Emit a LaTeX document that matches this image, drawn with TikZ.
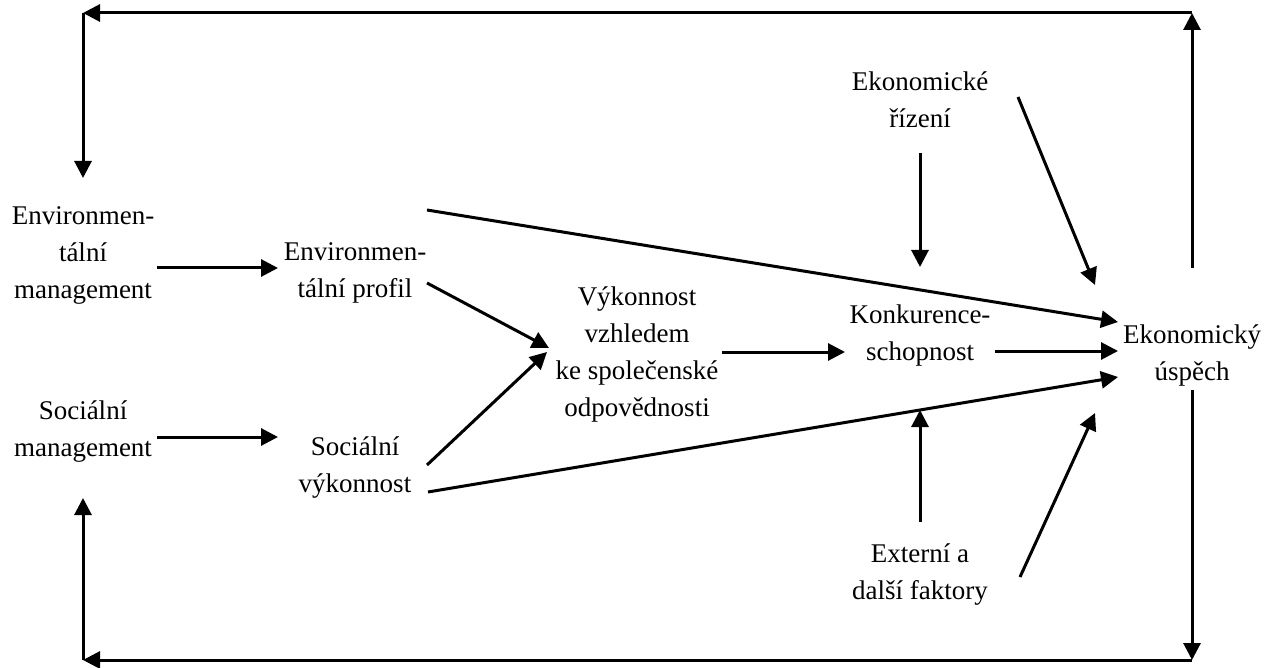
\documentclass[tikz,border=0pt]{standalone}
\usepackage{fontspec}
\setmainfont{Liberation Serif}
\usetikzlibrary{arrows.meta,calc}
\begin{document}
\begin{tikzpicture}[x=1pt,y=-1pt,
  lbl/.style={align=center,inner sep=2pt,font=\fontsize{27}{37}\selectfont},
  arr/.style={line width=3pt,-{Triangle[length=17pt,width=17pt]}}]
\useasboundingbox (0,0) rectangle (1279,668);
\node[lbl] (em) at (83,255) {Environmen-\\tální\\management};
\node[lbl] (sm) at (83,432) {Sociální\\management};
\node[lbl] (ep) at (355,273) {Environmen-\\tální profil};
\node[lbl] (sv) at (355,468) {Sociální\\výkonnost};
\node[lbl] (vk) at (637,354) {Výkonnost\\vzhledem\\ke společenské\\odpovědnosti};
\node[lbl] (k) at (920,336) {Konkurence-\\schopnost};
\node[lbl] (eu) at (1192,355) {Ekonomický\\úspěch};
\node[lbl] (er) at (920,100) {Ekonomické\\řízení};
\node[lbl] (ef) at (920,575) {Externí a\\další faktory};
\coordinate (tr) at (1192,13);
\coordinate (tl) at (83,13);
\coordinate (br) at (1192,660);
\coordinate (bl) at (83,660);
\draw[arr] ($(em)+(74,13)$) -- ($(ep)+(-77,-5)$);
\draw[arr] ($(sm)+(74,5)$) -- ($(sv)+(-77,-31)$);
\draw[arr] ($(ep)+(72,10)$) -- ($(vk)+(-88,-6)$);
\draw[arr] ($(sv)+(72,-3)$) -- ($(vk)+(-90,-2)$);
\draw[arr] ($(sv)+(73,24)$) -- ($(eu)+(-74,22)$);
\draw[arr] ($(ep)+(72,-63)$) -- ($(eu)+(-74,-33)$);
\draw[arr] ($(vk)+(85,-2)$) -- ($(k)+(-75,16)$);
\draw[arr] ($(k)+(75,15)$) -- ($(eu)+(-74,-4)$);
\draw[arr] ($(er)+(0,53)$) -- ($(k)+(0,-69)$);
\draw[arr] ($(er)+(98,-3)$) -- ($(eu)+(-97,-70)$);
\draw[arr] ($(ef)+(0,-53)$) -- ($(k)+(0,74)$);
\draw[arr] ($(ef)+(100,2)$) -- ($(eu)+(-97,58)$);
\draw[arr] ($(eu)+(0,-87)$) -- (tr);
\draw[arr] (tr) -- (tl);
\draw[arr] (tl) -- ($(em)+(0,-77)$);
\draw[arr] ($(eu)+(0,35)$) -- (br);
\draw[arr] (br) -- (bl);
\draw[arr] (bl) -- ($(sm)+(0,66)$);
\end{tikzpicture}
\end{document}
